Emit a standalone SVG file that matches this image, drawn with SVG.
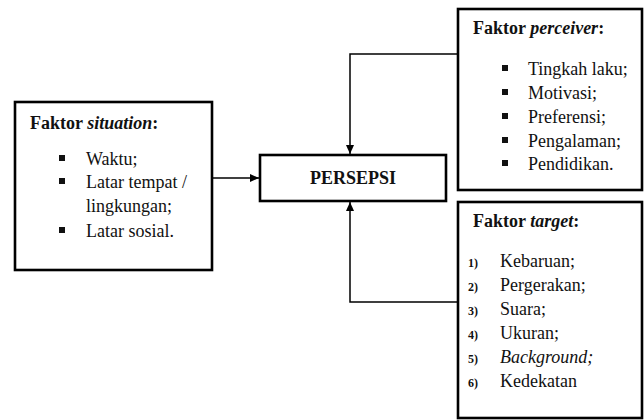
<svg xmlns="http://www.w3.org/2000/svg" width="644" height="420" viewBox="0 0 644 420">
<defs>
<marker id="arr" markerWidth="10" markerHeight="10" refX="9" refY="5" orient="auto" markerUnits="userSpaceOnUse">
<path d="M0,1 L9,5 L0,9 Z" fill="#000"/>
</marker>
<style>
.box{fill:#fff;stroke:#000;stroke-width:2.6}
.t{font-size:18px;fill:#111}
.b{font-weight:bold}
.n{font-size:12px;font-weight:bold;fill:#111}
.c{fill:none;stroke:#000;stroke-width:1.5}
.bl{fill:#111}
</style>
</defs>
<rect width="644" height="420" fill="#fff"/>
<g id="connectors">
<line class="c" x1="212" y1="178" x2="259" y2="178" marker-end="url(#arr)"/>
<polyline class="c" points="458,54 350,54 350,154" marker-end="url(#arr)"/>
<polyline class="c" points="458,302 350,302 350,202" marker-end="url(#arr)"/>
</g>
<g font-family="Liberation Serif, DejaVu Serif, serif">
<g id="situation">
<rect class="box" x="15" y="102" width="197" height="168"/>
<text class="t b" x="30" y="129">Faktor <tspan font-style="italic">situation</tspan>:</text>
<rect class="bl" x="59" y="155" width="6" height="6"/>
<text class="t" x="86" y="165">Waktu;</text>
<rect class="bl" x="59" y="178" width="6" height="6"/>
<text class="t" x="86" y="188">Latar tempat /</text>
<text class="t" x="86" y="212">lingkungan;</text>
<rect class="bl" x="59" y="227" width="6" height="6"/>
<text class="t" x="86" y="237">Latar sosial.</text>
</g>
<g id="persepsi">
<rect class="box" x="260" y="155" width="186" height="46"/>
<text class="t b" x="353" y="184" text-anchor="middle">PERSEPSI</text>
</g>
<g id="perceiver">
<rect class="box" x="458" y="9" width="184" height="181"/>
<text class="t b" x="473" y="34">Faktor <tspan font-style="italic">perceiver</tspan>:</text>
<rect class="bl" x="502" y="65" width="6" height="6"/>
<text class="t" x="528" y="75">Tingkah laku;</text>
<rect class="bl" x="502" y="89" width="6" height="6"/>
<text class="t" x="528" y="99">Motivasi;</text>
<rect class="bl" x="502" y="113" width="6" height="6"/>
<text class="t" x="528" y="123">Preferensi;</text>
<rect class="bl" x="502" y="137" width="6" height="6"/>
<text class="t" x="528" y="147">Pengalaman;</text>
<rect class="bl" x="502" y="160" width="6" height="6"/>
<text class="t" x="528" y="170">Pendidikan.</text>
</g>
<g id="target">
<rect class="box" x="458" y="202" width="184" height="216"/>
<text class="t b" x="473" y="227">Faktor <tspan font-style="italic">target</tspan>:</text>
<text class="n" x="468" y="267">1)</text>
<text class="t" x="500" y="267">Kebaruan;</text>
<text class="n" x="468" y="291">2)</text>
<text class="t" x="500" y="291">Pergerakan;</text>
<text class="n" x="468" y="315">3)</text>
<text class="t" x="500" y="315">Suara;</text>
<text class="n" x="468" y="339">4)</text>
<text class="t" x="500" y="339">Ukuran;</text>
<text class="n" x="468" y="363">5)</text>
<text class="t" x="500" y="363" font-style="italic">Background;</text>
<text class="n" x="468" y="387">6)</text>
<text class="t" x="500" y="387">Kedekatan</text>
</g>
</g>
</svg>
